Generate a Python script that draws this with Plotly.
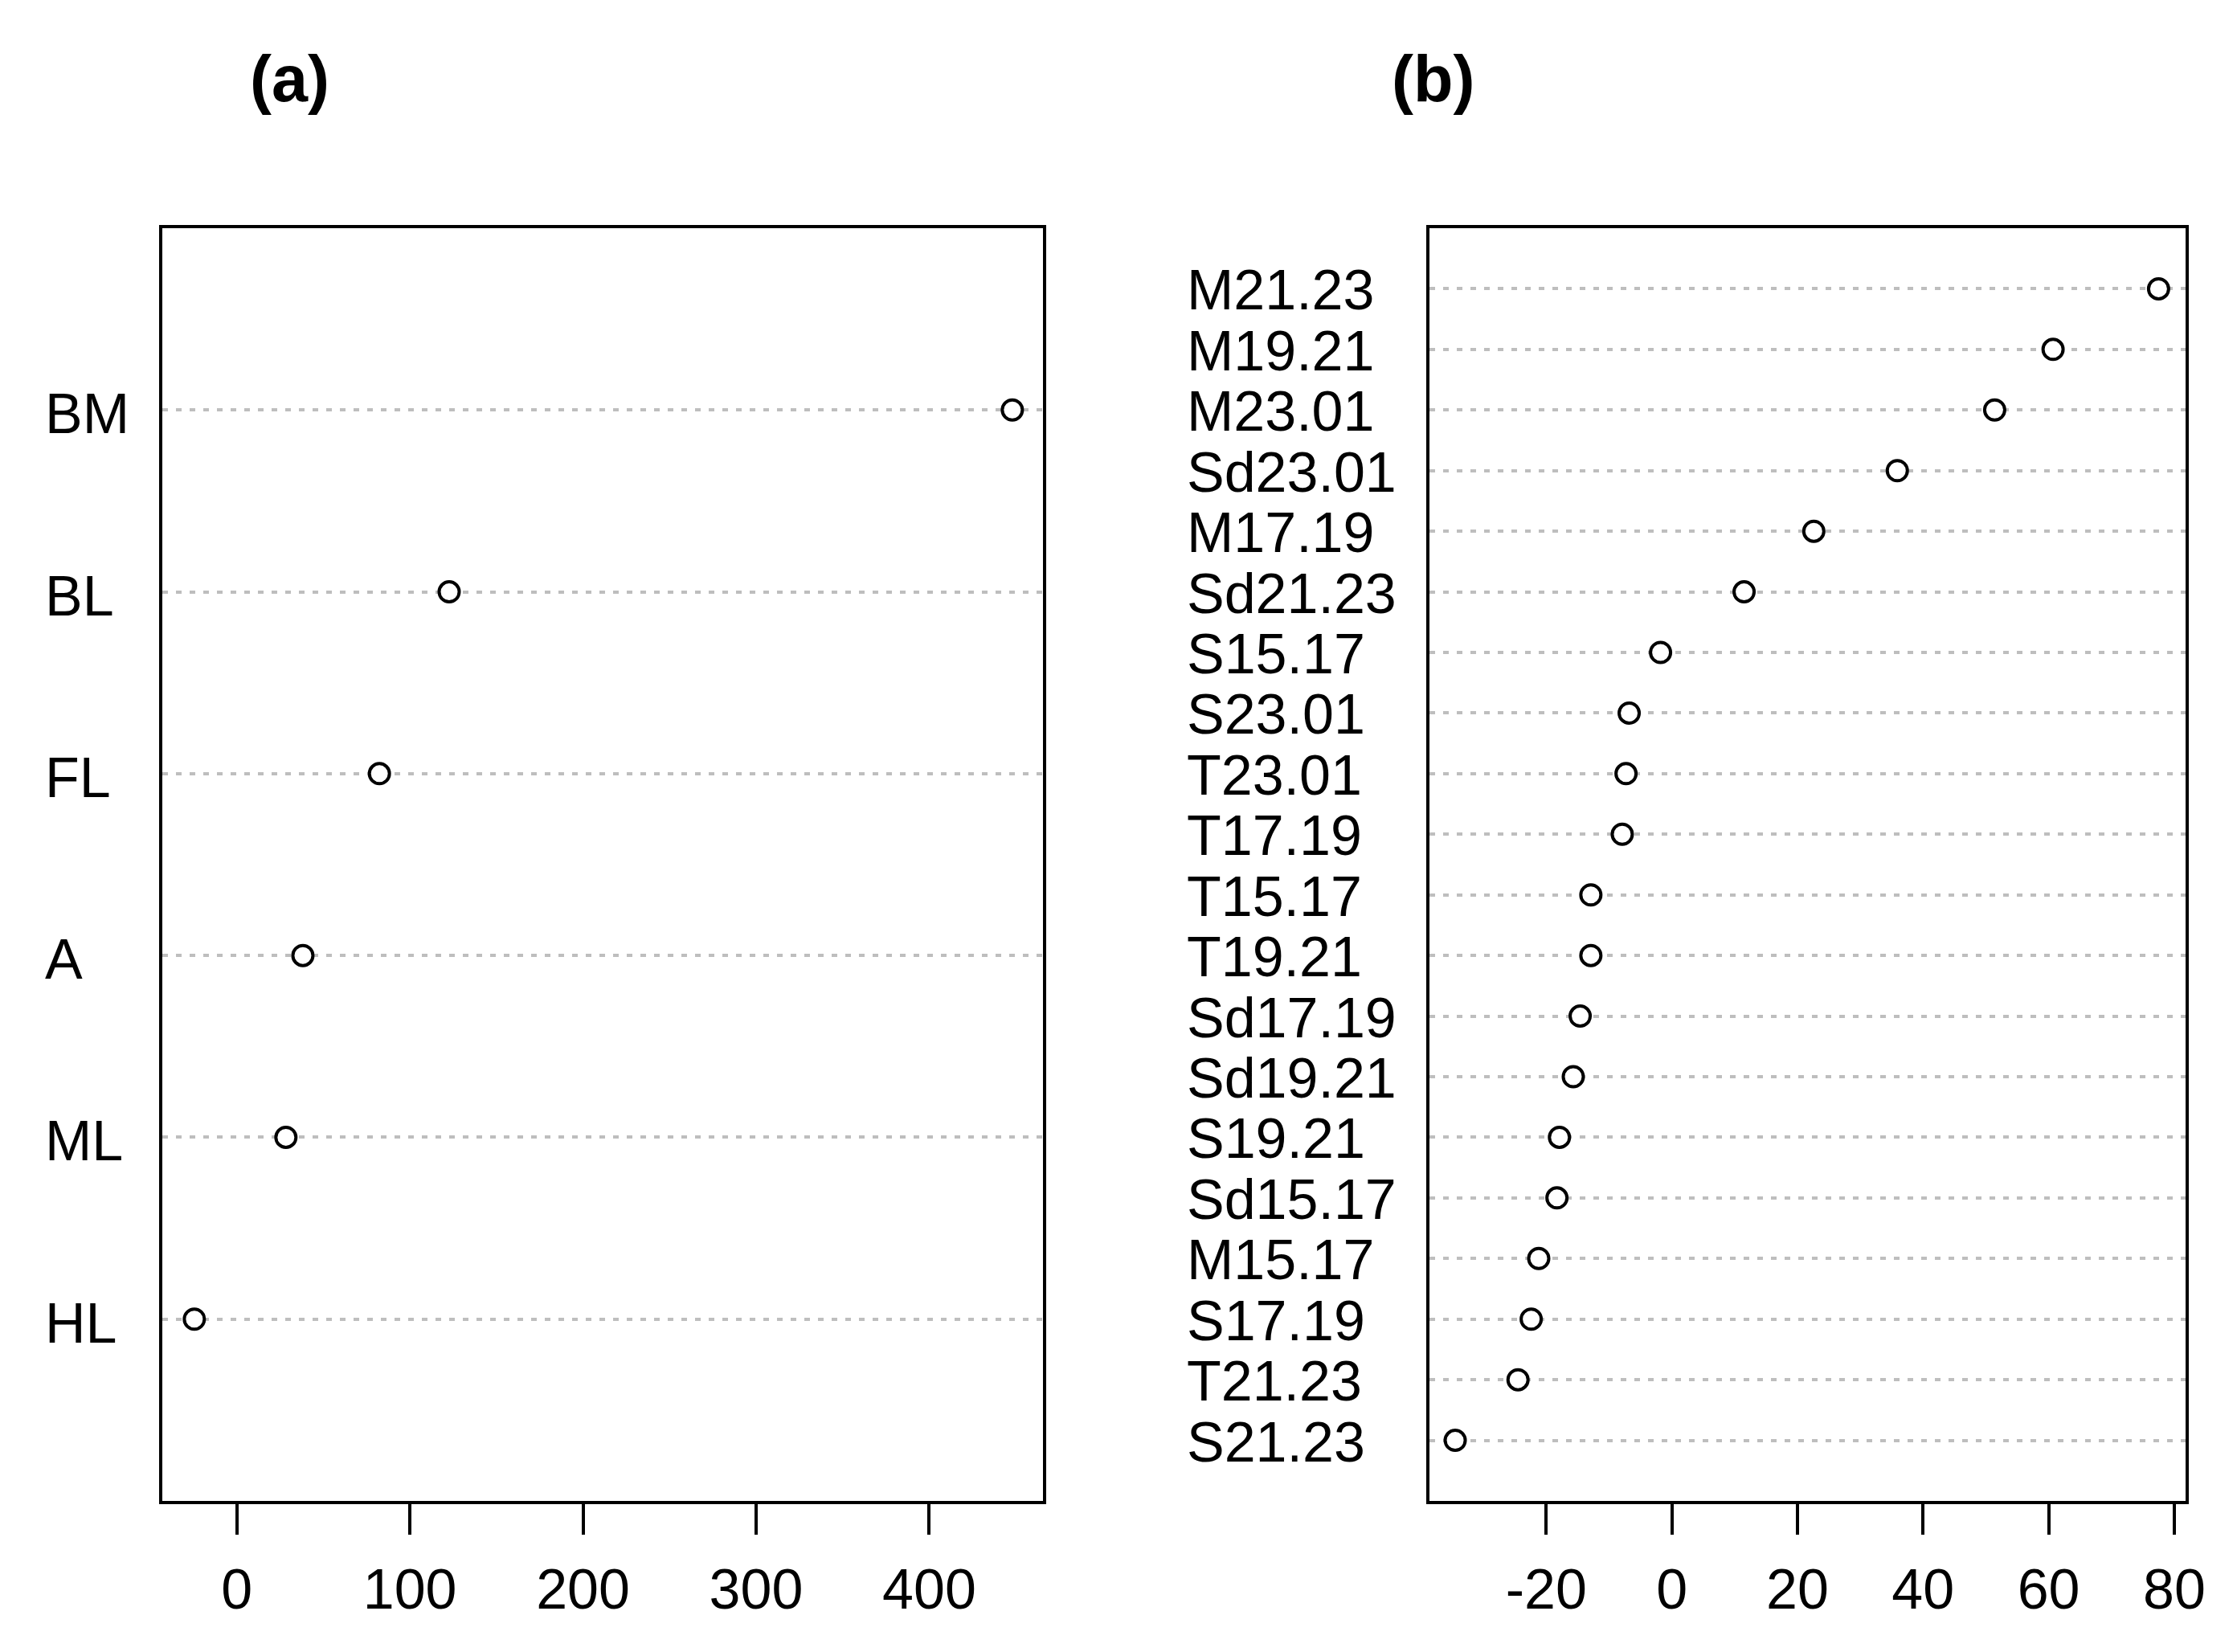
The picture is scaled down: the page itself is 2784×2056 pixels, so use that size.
import plotly.graph_objects as go

# ---- data ----
cats_a = ["HL", "ML", "A", "FL", "BL", "BM"]
vals_a = [-24.5, 28.4, 38.2, 82.4, 122.7, 448.0]

cats_b = ["S21.23", "T21.23", "S17.19", "M15.17", "Sd15.17", "S19.21", "Sd19.21",
          "Sd17.19", "T19.21", "T15.17", "T17.19", "T23.01", "S23.01", "S15.17",
          "Sd21.23", "M17.19", "Sd23.01", "M23.01", "M19.21", "M21.23"]
vals_b = [-34.5, -24.5, -22.4, -21.2, -18.3, -17.9, -15.7,
          -14.6, -12.9, -12.9, -7.9, -7.3, -6.8, -1.8,
          11.5, 22.6, 35.9, 51.4, 60.7, 77.5]

ticks_a = [0, 100, 200, 300, 400]
ticklabels_a = ["0", "100", "200", "300", "400"]
ticks_b = [-20, 0, 20, 40, 60, 80]
ticklabels_b = ["-20", "0", "20", "40", "60", "80"]
titles = ["(a)", "(b)"]

# the page body keeps its default 8px margin, so the figure is sized to fit inside it
W, H = 2768, 2040
FONT = "Liberation Sans, Arial, sans-serif"

fig = go.Figure()
marker = dict(symbol="circle", size=25, color="white", line=dict(color="black", width=4))
fig.add_trace(go.Scatter(x=vals_a, y=cats_a, mode="markers", marker=marker,
                         xaxis="x", yaxis="y", showlegend=False, cliponaxis=False))
fig.add_trace(go.Scatter(x=vals_b, y=cats_b, mode="markers", marker=marker,
                         xaxis="x2", yaxis="y2", showlegend=False, cliponaxis=False))

ydom = [1 - 1860 / H, 1 - 276 / H]

common_x = dict(showline=True, linecolor="black", linewidth=4, mirror=True,
                ticks="outside", ticklen=38, tickwidth=4, tickcolor="black",
                showgrid=False, zeroline=False, automargin=False,
                tickfont=dict(family=FONT, size=70, color="black"),
                ticklabelstandoff=8)
common_y = dict(showline=True, linecolor="black", linewidth=4, mirror=True,
                showticklabels=False, ticks="", showgrid=True, automargin=False,
                gridcolor="#BEBEBE", gridwidth=4, griddash="7px,10px",
                zeroline=False, type="category")

fig.update_layout(
    width=W, height=H,
    margin=dict(l=0, r=0, t=0, b=0, pad=0, autoexpand=False),
    paper_bgcolor="white", plot_bgcolor="white",
    xaxis=dict(domain=[194 / W, 1290 / W], range=[-43.0, 465.7],
               tickmode="array", tickvals=ticks_a, ticktext=ticklabels_a,
               anchor="y", **common_x),
    yaxis=dict(domain=ydom, range=[-1, len(cats_a)], anchor="x", **common_y),
    xaxis2=dict(domain=[1771 / W, 2712 / W], range=[-38.6, 81.8],
                tickmode="array", tickvals=ticks_b, ticktext=ticklabels_b,
                anchor="y2", **common_x),
    yaxis2=dict(domain=ydom, range=[-1, len(cats_b)], anchor="x2", **common_y),
)

annos = []
for c in cats_a:
    annos.append(dict(x=46 / W, xref="paper", y=c, yref="y", text=c, showarrow=False,
                      xanchor="left", yanchor="middle", yshift=-5,
                      font=dict(family=FONT, size=70, color="black")))
for c in cats_b:
    annos.append(dict(x=1467 / W, xref="paper", y=c, yref="y2", text=c, showarrow=False,
                      xanchor="left", yanchor="middle", yshift=-2,
                      font=dict(family=FONT, size=70, color="black")))
for t, xc in zip(titles, [352, 1775]):
    annos.append(dict(x=xc / W, xref="paper", y=1 - 90 / H, yref="paper", text="<b>" + t + "</b>",
                      showarrow=False, xanchor="center", yanchor="middle",
                      font=dict(family=FONT, size=81, color="black")))
fig.update_layout(annotations=annos)

fig.write_html("out.html")
